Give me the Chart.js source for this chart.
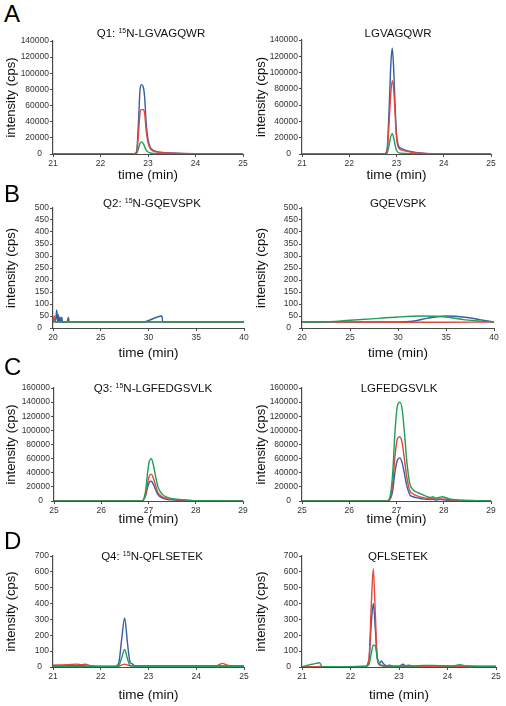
<!DOCTYPE html>
<html>
<head>
<meta charset="utf-8">
<script src="https://cdn.jsdelivr.net/npm/chart.js@4.4.1/dist/chart.umd.min.js"></script>
<style>
  html, body { margin: 0; padding: 0; background: #fff; }
  #wrap { position: relative; width: 506px; height: 706px; overflow: hidden; font-family: "Liberation Sans", Arial, sans-serif; }
  canvas { position: absolute; }
  .letter { position: absolute; font-size: 24px; line-height: 24px; color: #000; }
  .ttl { position: absolute; font-size: 11.5px; line-height: 12px; color: #111; white-space: nowrap; transform: translateX(-50%); }
  .ttl sup { font-size: 7px; vertical-align: 4px; line-height: 0; }
</style>
</head>
<body>
<div id="wrap"></div>
<script>
// ---------- tick labels ----------
const xTicksA = [21, 22, 23, 24, 25];
const xTicksB = [20, 25, 30, 35, 40];
const xTicksC = [25, 26, 27, 28, 29];
const xTicksD = [21, 22, 23, 24, 25];
const yTicksA = [0, 20000, 40000, 60000, 80000, 100000, 120000, 140000];
const yTicksB = [0, 50, 100, 150, 200, 250, 300, 350, 400, 450, 500];
const yTicksC = [0, 20000, 40000, 60000, 80000, 100000, 120000, 140000, 160000];
const yTicksD = [0, 100, 200, 300, 400, 500, 600, 700];

// ---------- A left: Q1 15N-LGVAGQWR ----------
const tA1     = [21, 22.5, 22.7, 22.76, 22.8, 22.83, 22.86, 22.9, 22.93, 22.96, 23.0, 23.05, 23.1, 23.2, 23.3, 23.5, 23.7, 24.0, 24.5, 25];
const blueA1  = [0, 0, 0, 3000, 40000, 78000, 86000, 83000, 70000, 40000, 18000, 8000, 5000, 3000, 2000, 1200, 700, 300, 100, 0];
const redA1   = [0, 0, 0, 2000, 25000, 50000, 55000, 55000, 50000, 30000, 14000, 6500, 4000, 2500, 1600, 1000, 600, 250, 100, 0];
const greenA1 = [0, 0, 0, 500, 7000, 13000, 15000, 13000, 9000, 5000, 2500, 1200, 800, 500, 300, 200, 100, 50, 0, 0];

// ---------- A right: LGVAGQWR ----------
const tA2     = [21, 22.5, 22.65, 22.75, 22.8, 22.84, 22.88, 22.91, 22.94, 22.97, 23.0, 23.05, 23.1, 23.2, 23.3, 23.45, 23.6, 24, 25];
const blueA2  = [0, 0, 0, 0, 5000, 50000, 110000, 130000, 105000, 60000, 25000, 9000, 7000, 4500, 3000, 1500, 800, 200, 0];
const redA2   = [0, 0, 0, 0, 3500, 35000, 75000, 90000, 80000, 50000, 20000, 7000, 5000, 3500, 2300, 1200, 600, 150, 0];
const greenA2 = [0, 0, 0, 0, 1000, 10000, 22000, 25000, 20000, 11000, 4500, 1500, 1000, 600, 400, 200, 100, 0, 0];

// ---------- B left: Q2 15N-GQEVSPK ----------
const tB1blue  = [20, 20.1, 20.2, 20.3, 20.39, 20.48, 20.55, 20.64, 20.73, 20.82, 20.91, 21.0, 21.5, 21.6, 21.7, 22, 29.4, 31.4, 31.5, 40];
const blueB1   = [25, 35, 28, 40, 75, 28, 55, 25, 45, 25, 45, 25, 25, 45, 25, 25, 25, 50, 25, 25];
const tB1red   = [20, 20.14, 20.25, 40];
const redB1    = [30, 50, 25, 25];
const tB1green = [20, 40];
const greenB1  = [25, 25];

// ---------- B right: GQEVSPK ----------
const tB2blue  = [20, 25, 30, 31.5, 33, 35, 37, 38.5, 40];
const blueB2   = [25, 25, 25, 28, 40, 50, 45, 35, 25];
const tB2red   = [20, 30, 35, 40];
const redB2    = [25, 24, 24, 25];
const tB2green = [20, 22, 25, 28, 30, 32.5, 35, 37, 40];
const greenB2  = [25, 25, 32, 40, 46, 50, 46, 34, 25];

// ---------- C left: Q3 15N-LGFEDGSVLK ----------
const tC1     = [25, 26.8, 26.88, 26.94, 26.98, 27.02, 27.06, 27.1, 27.15, 27.2, 27.3, 27.4, 27.55, 27.7, 27.85, 28, 29];
const greenC1 = [0, 0, 1000, 15000, 40000, 57000, 60000, 52000, 35000, 20000, 9000, 5000, 3000, 2000, 1000, 300, 0];
const redC1   = [0, 0, 600, 10000, 25000, 36000, 38000, 33000, 22000, 12000, 5500, 3000, 2000, 1500, 700, 200, 0];
const blueC1  = [0, 0, 500, 8000, 19000, 27000, 28000, 24000, 16000, 9000, 4000, 2200, 1500, 1000, 500, 150, 0];

// ---------- C right: LGFEDGSVLK ----------
const tC2     = [25, 26.8, 26.86, 26.92, 26.97, 27.02, 27.07, 27.12, 27.17, 27.22, 27.28, 27.35, 27.45, 27.55, 27.65, 27.72, 27.77, 27.83, 27.9, 27.97, 28.03, 28.15, 28.4, 28.7, 29];
const greenC2 = [0, 0, 5000, 40000, 100000, 135000, 140000, 130000, 95000, 55000, 25000, 16000, 12000, 9000, 6000, 5000, 6000, 4000, 5000, 6000, 5000, 2500, 1000, 500, 0];
const redC2   = [0, 0, 3000, 25000, 65000, 88000, 91000, 82000, 58000, 33000, 15000, 10000, 7000, 5000, 3500, 3000, 3500, 2500, 3000, 3000, 2500, 1500, 700, 300, 0];
const blueC2  = [0, 0, 2000, 15000, 42000, 58000, 61000, 54000, 38000, 21000, 9000, 6000, 4500, 3000, 2500, 2000, 2500, 1500, 2000, 2000, 1500, 800, 400, 200, 0];

// ---------- D left: Q4 15N-QFLSETEK ----------
const tD1     = [21, 21.3, 21.5, 21.6, 21.68, 21.8, 22.0, 22.3, 22.38, 22.44, 22.5, 22.56, 22.61, 22.66, 22.72, 22.85, 23.2, 23.8, 24.3, 24.45, 24.55, 24.65, 24.8, 25];
const blueD1  = [8, 10, 8, 10, 6, 4, 3, 3, 30, 180, 310, 150, 35, 20, 8, 8, 7, 6, 6, 6, 6, 6, 5, 5];
const redD1   = [12, 14, 18, 14, 17, 8, 5, 5, 6, 12, 18, 12, 8, 7, 6, 6, 6, 6, 6, 10, 23, 12, 8, 8];
const greenD1 = [3, 3, 4, 3, 3, 2, 2, 2, 10, 60, 110, 50, 10, 6, 5, 5, 5, 5, 5, 5, 5, 5, 5, 5];

// ---------- D right: QFLSETEK ----------
const tD2     = [21, 21.1, 21.25, 21.36, 21.42, 21.6, 22.0, 22.3, 22.38, 22.43, 22.47, 22.51, 22.55, 22.6, 22.64, 22.68, 22.74, 22.81, 22.88, 23.0, 23.08, 23.14, 23.2, 23.3, 23.5, 23.7, 23.9, 24.1, 24.25, 24.4, 24.7, 25];
const redD2   = [3, 2, 2, 2, 2, 2, 2, 3, 50, 400, 620, 350, 60, 12, 8, 5, 4, 5, 3, 3, 5, 5, 4, 3, 3, 3, 3, 3, 4, 3, 2, 2];
const blueD2  = [2, 2, 2, 3, 2, 2, 2, 3, 40, 280, 400, 250, 60, 25, 38, 20, 8, 12, 5, 5, 18, 8, 12, 5, 6, 7, 6, 5, 6, 5, 4, 4];
const greenD2 = [0, 10, 20, 27, 2, 2, 2, 3, 15, 90, 138, 135, 60, 20, 12, 8, 6, 8, 4, 5, 8, 6, 6, 6, 10, 10, 8, 6, 15, 6, 5, 5];

// ---------- styling ----------
const BLUE = '#3a5ca4', RED = '#e2473b', GREEN = '#1f9e5a', AX = '#4a4a4a';
const FAM = '"Liberation Sans", Arial, sans-serif';

const panels = [
  { L: 53,  R: 243, T: 41,  B: 154, cl: 0,   H: 33, xr: [21, 25], xt: xTicksA, yt: yTicksA,
    g: [tA1, greenA1], r: [tA1, redA1], b: [tA1, blueA1] },
  { L: 302, R: 491, T: 40,  B: 154, cl: 250, H: 33, xr: [21, 25], xt: xTicksA, yt: yTicksA,
    g: [tA2, greenA2], r: [tA2, redA2], b: [tA2, blueA2] },
  { L: 53,  R: 244, T: 208, B: 328, cl: 0,   H: 37, xr: [20, 40], xt: xTicksB, yt: yTicksB,
    g: [tB1green, greenB1], r: [tB1red, redB1], b: [tB1blue, blueB1] },
  { L: 302, R: 494, T: 208, B: 328, cl: 250, H: 37, xr: [20, 40], xt: xTicksB, yt: yTicksB,
    g: [tB2green, greenB2], r: [tB2red, redB2], b: [tB2blue, blueB2] },
  { L: 54,  R: 243, T: 388, B: 501, cl: 0,   H: 30, xr: [25, 29], xt: xTicksC, yt: yTicksC,
    g: [tC1, greenC1], r: [tC1, redC1], b: [tC1, blueC1] },
  { L: 302, R: 491, T: 388, B: 501, cl: 250, H: 30, xr: [25, 29], xt: xTicksC, yt: yTicksC,
    g: [tC2, greenC2], r: [tC2, redC2], b: [tC2, blueC2] },
  { L: 53,  R: 244, T: 556, B: 667, cl: 0,   H: 40, xr: [21, 25], xt: xTicksD, yt: yTicksD,
    g: [tD1, greenD1], r: [tD1, redD1], b: [tD1, blueD1] },
  { L: 302, R: 496, T: 556, B: 667, cl: 250, H: 40, xr: [21, 25], xt: xTicksD, yt: yTicksD,
    g: [tD2, greenD2], r: [tD2, redD2], b: [tD2, blueD2] }
];

const titles = [
  { x: 151, y: 33,  html: 'Q1: <sup>15</sup>N-LGVAGQWR' },
  { x: 398, y: 33,  html: 'LGVAGQWR' },
  { x: 152, y: 203, html: 'Q2: <sup>15</sup>N-GQEVSPK' },
  { x: 398, y: 203, html: 'GQEVSPK' },
  { x: 153, y: 388, html: 'Q3: <sup>15</sup>N-LGFEDGSVLK' },
  { x: 399, y: 388, html: 'LGFEDGSVLK' },
  { x: 152, y: 556, html: 'Q4: <sup>15</sup>N-QFLSETEK' },
  { x: 398, y: 556, html: 'QFLSETEK' }
];
const letters = [
  { t: 'A', x: 4, base: 22 }, { t: 'B', x: 4, base: 202 },
  { t: 'C', x: 4, base: 375 }, { t: 'D', x: 4, base: 549 }
];

const wrap = document.getElementById('wrap');
const pts = (ts, ys) => ts.map((t, i) => ({ x: t, y: ys[i] }));
const PAD_T = 10, PAD_R = 12;

panels.forEach(p => {
  const yW = p.L - p.cl;
  const w = yW + (p.R - p.L) + PAD_R;
  const h = PAD_T + (p.B - p.T) + p.H;
  const cv = document.createElement('canvas');
  cv.width = w; cv.height = h;
  cv.style.left = p.cl + 'px'; cv.style.top = (p.T - PAD_T) + 'px';
  cv.style.width = w + 'px'; cv.style.height = h + 'px';
  wrap.appendChild(cv);
  const ds = (d, c) => ({ data: pts(d[0], d[1]), borderColor: c, backgroundColor: c, borderWidth: 1.4,
                          pointRadius: 0, cubicInterpolationMode: 'monotone', fill: false });
  new Chart(cv, {
    type: 'line',
    data: { datasets: [ds(p.g, GREEN), ds(p.r, RED), ds(p.b, BLUE)] },
    options: {
      responsive: false, animation: false, devicePixelRatio: 1,
      layout: { padding: { top: PAD_T, right: PAD_R, left: 0, bottom: 0 } },
      plugins: { legend: { display: false }, tooltip: { enabled: false } },
      scales: {
        x: {
          type: 'linear', min: p.xr[0], max: p.xr[1],
          afterBuildTicks: s => { s.ticks = p.xt.map(v => ({ value: v })); },
          afterFit: s => { s.height = p.H; },
          grid: { display: true, drawOnChartArea: false, drawTicks: true, tickLength: 3, color: AX },
          border: { display: true, color: AX, width: 1 },
          ticks: { font: { size: 8.5, family: FAM }, color: '#333', padding: 2, maxRotation: 0, autoSkip: false },
          title: { display: true, text: 'time (min)', color: '#111', font: { size: 13.5, family: FAM }, padding: { top: 0, bottom: 4 } }
        },
        y: {
          type: 'linear', min: 0, max: p.yt[p.yt.length - 1],
          afterBuildTicks: s => { s.ticks = p.yt.map(v => ({ value: v })); },
          afterFit: s => { s.width = yW; },
          grid: { display: true, drawOnChartArea: false, drawTicks: true, tickLength: 3, color: AX },
          border: { display: true, color: AX, width: 1.2 },
          ticks: { font: { size: 8.5, family: FAM }, color: '#333', padding: 1, autoSkip: false,
                   callback: v => v === 0 ? '0   ' : String(v) },
          title: { display: true, text: 'intensity (cps)', color: '#111', font: { size: 13, family: FAM }, padding: { top: 4, bottom: 0 } }
        }
      }
    }
  });
});

titles.forEach(t => {
  const d = document.createElement('div');
  d.className = 'ttl';
  d.innerHTML = t.html;
  d.style.left = t.x + 'px';
  d.style.top = (t.y - 6) + 'px';
  wrap.appendChild(d);
});
letters.forEach(l => {
  const d = document.createElement('div');
  d.className = 'letter';
  d.textContent = l.t;
  d.style.left = l.x + 'px';
  d.style.top = (l.base - 20) + 'px';
  wrap.appendChild(d);
});
</script>
</body>
</html>
